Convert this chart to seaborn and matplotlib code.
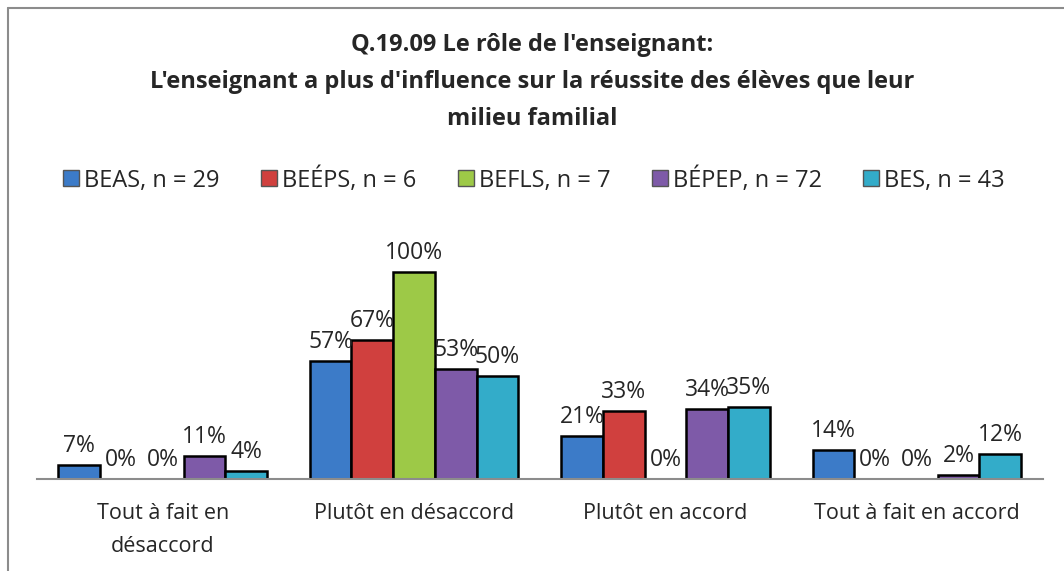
import numpy as np
import pandas as pd
import matplotlib
matplotlib.use("Agg")
import matplotlib.pyplot as plt
import seaborn as sns
from matplotlib.lines import Line2D

# Données du graphique
categories = ["Tout à fait en\ndésaccord", "Plutôt en désaccord", "Plutôt en accord", "Tout à fait en accord"]
groupes = ["BEAS, n = 29", "BEÉPS, n = 6", "BEFLS, n = 7", "BÉPEP, n = 72", "BES, n = 43"]
beas = [7, 57, 21, 14]
beeps = [0, 67, 33, 0]
befls = [0, 100, 0, 0]
bepep = [11, 53, 34, 2]
bes = [4, 50, 35, 12]
couleurs = ["#3c7bc8", "#d0403e", "#9dc947", "#7e5aa8", "#33acc9"]

valeurs = [beas, beeps, befls, bepep, bes]
rows = []
for g, vals in zip(groupes, valeurs):
    for c, v in zip(categories, vals):
        rows.append({"categorie": c, "groupe": g, "valeur": v})
df = pd.DataFrame(rows)

sns.set_theme(style="white")
plt.rcParams['font.family'] = ['Open Sans', 'DejaVu Sans']

fig = plt.figure(figsize=(10.64, 5.71), dpi=100)
ax = fig.add_axes([0.0348, 0.161, 0.945, 0.462])

sns.barplot(data=df, x="categorie", y="valeur", hue="groupe", order=categories,
            hue_order=groupes, palette=couleurs, width=0.83, edgecolor="black",
            linewidth=1.8, saturation=1, legend=False, ax=ax)

# Étiquettes de données
for cont, vals in zip(ax.containers, valeurs):
    ax.bar_label(cont, labels=[f"{v}%" for v in vals], padding=5, fontsize=16.5)

ax.set_xlim(-0.5, 3.5)
ax.set_ylim(0, 127.5)
ax.set_xlabel("")
ax.set_ylabel("")
ax.set_yticks([])
ax.tick_params(axis="x", length=0, labelsize=15.5, pad=17)
for lab in ax.get_xticklabels():
    lab.set_linespacing(1.75)
for s in ["top", "right", "left"]:
    ax.spines[s].set_visible(False)
ax.spines["bottom"].set_color("#8c8c8c")
ax.spines["bottom"].set_linewidth(1.5)

# Titre
fig.text(0.5, 0.942, "Q.19.09 Le rôle de l'enseignant:\nL'enseignant a plus d'influence sur la réussite des élèves que leur\nmilieu familial",
         ha="center", va="top", fontsize=17, fontweight="bold", linespacing=1.72)

# Légende
handles = [Line2D([0], [0], marker="s", color="none", markerfacecolor=c,
                  markeredgecolor="#555555", markersize=12) for c in couleurs]
fig.legend(handles, groupes, loc="center", bbox_to_anchor=(0.5, 0.685), ncol=5,
           frameon=False, fontsize=17, handletextpad=0.05, columnspacing=1.6,
           handlelength=1.0)

# Cadre
fig.add_artist(Line2D([8/1064, 8/1064], [0, 1 - 8/571], color="#8c8c8c", lw=1.5))
fig.add_artist(Line2D([8/1064, 1], [1 - 8/571, 1 - 8/571], color="#8c8c8c", lw=1.5))

fig.savefig("out.png", dpi=100)
